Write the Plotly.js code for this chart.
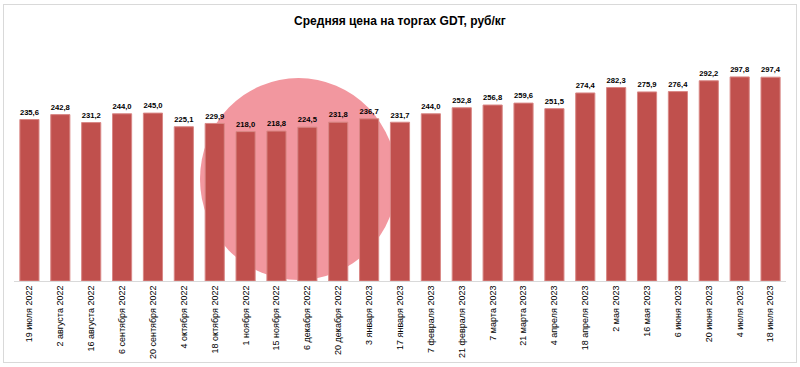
<!DOCTYPE html>
<html>
<head>
<meta charset="utf-8">
<script src="https://cdn.plot.ly/plotly-3.0.1.min.js"></script>
<style>
html,body{margin:0;padding:0;background:#fff;}
#wrap{position:relative;width:800px;height:367px;}
#chart{width:800px;height:367px;}
#frame{position:absolute;left:3px;top:4px;width:792px;height:357px;border:1px solid #d9d9d9;pointer-events:none;}
</style>
</head>
<body>
<div id="wrap"><div id="chart"></div><div id="frame"></div></div>
<script>
const categories = ["19 июля 2022","2 августа 2022","16 августа 2022","6 сентября 2022","20 сентября 2022","4 октября 2022","18 октября 2022","1 ноября 2022","15 ноября 2022","6 декабря 2022","20 декабря 2022","3 января 2023","17 января 2023","7 февраля 2023","21 февраля 2023","7 марта 2023","21 марта 2023","4 апреля 2023","18 апреля 2023","2 мая 2023","16 мая 2023","6 июня 2023","20 июня 2023","4 июля 2023","18 июля 2023"];
const prices = [235.6,242.8,231.2,244.0,245.0,225.1,229.9,218.0,218.8,224.5,231.8,236.7,231.7,244.0,252.8,256.8,259.6,251.5,274.4,282.3,275.9,276.4,292.2,297.8,297.4];
const titleText = "Средняя цена на торгах GDT, руб/кг";

const trace = {
  type: "bar",
  x: categories,
  y: prices,
  text: prices.map(v => v.toFixed(1).replace(".", ",")),
  textposition: "outside",
  textfont: {family: "Liberation Sans, Arial, sans-serif", size: 9, color: "#000"},
  texttemplate: "<b>%{text}</b>",
  cliponaxis: false,
  marker: {color: "#c0504d", line: {color: "#d98886", width: 1}},
  hoverinfo: "x+y"
};

const layout = {
  width: 800, height: 367,
  margin: {l: 14, r: 14, t: 48, b: 86},
  paper_bgcolor: "#fff", plot_bgcolor: "rgba(0,0,0,0)",
  bargap: 0.38,
  showlegend: false,
  title: {text: "<b>" + titleText + "</b>", x: 0.5, xanchor: "center", y: 0.943, yanchor: "middle",
          font: {family: "Liberation Sans, Arial, sans-serif", size: 12, color: "#000"}},
  xaxis: {
    type: "category", tickangle: -90, showline: true, linecolor: "#d9d9d9", linewidth: 1,
    ticks: "", showgrid: false, zeroline: false,
    tickfont: {family: "Liberation Sans Narrow, Liberation Sans, Arial, sans-serif", size: 9, color: "#000"}
  },
  yaxis: {range: [0, 340], visible: false, showgrid: false, zeroline: false},
  shapes: [{
    type: "circle", xref: "paper", yref: "paper", layer: "below",
    x0: (200 - 14) / 772, x1: (397 - 14) / 772,
    y0: (281 - 280) / 233, y1: (281 - 78) / 233,
    fillcolor: "#f2979f", line: {width: 0}
  }]
};

Plotly.newPlot("chart", [trace], layout, {displayModeBar: false, staticPlot: true});
</script>
</body>
</html>
